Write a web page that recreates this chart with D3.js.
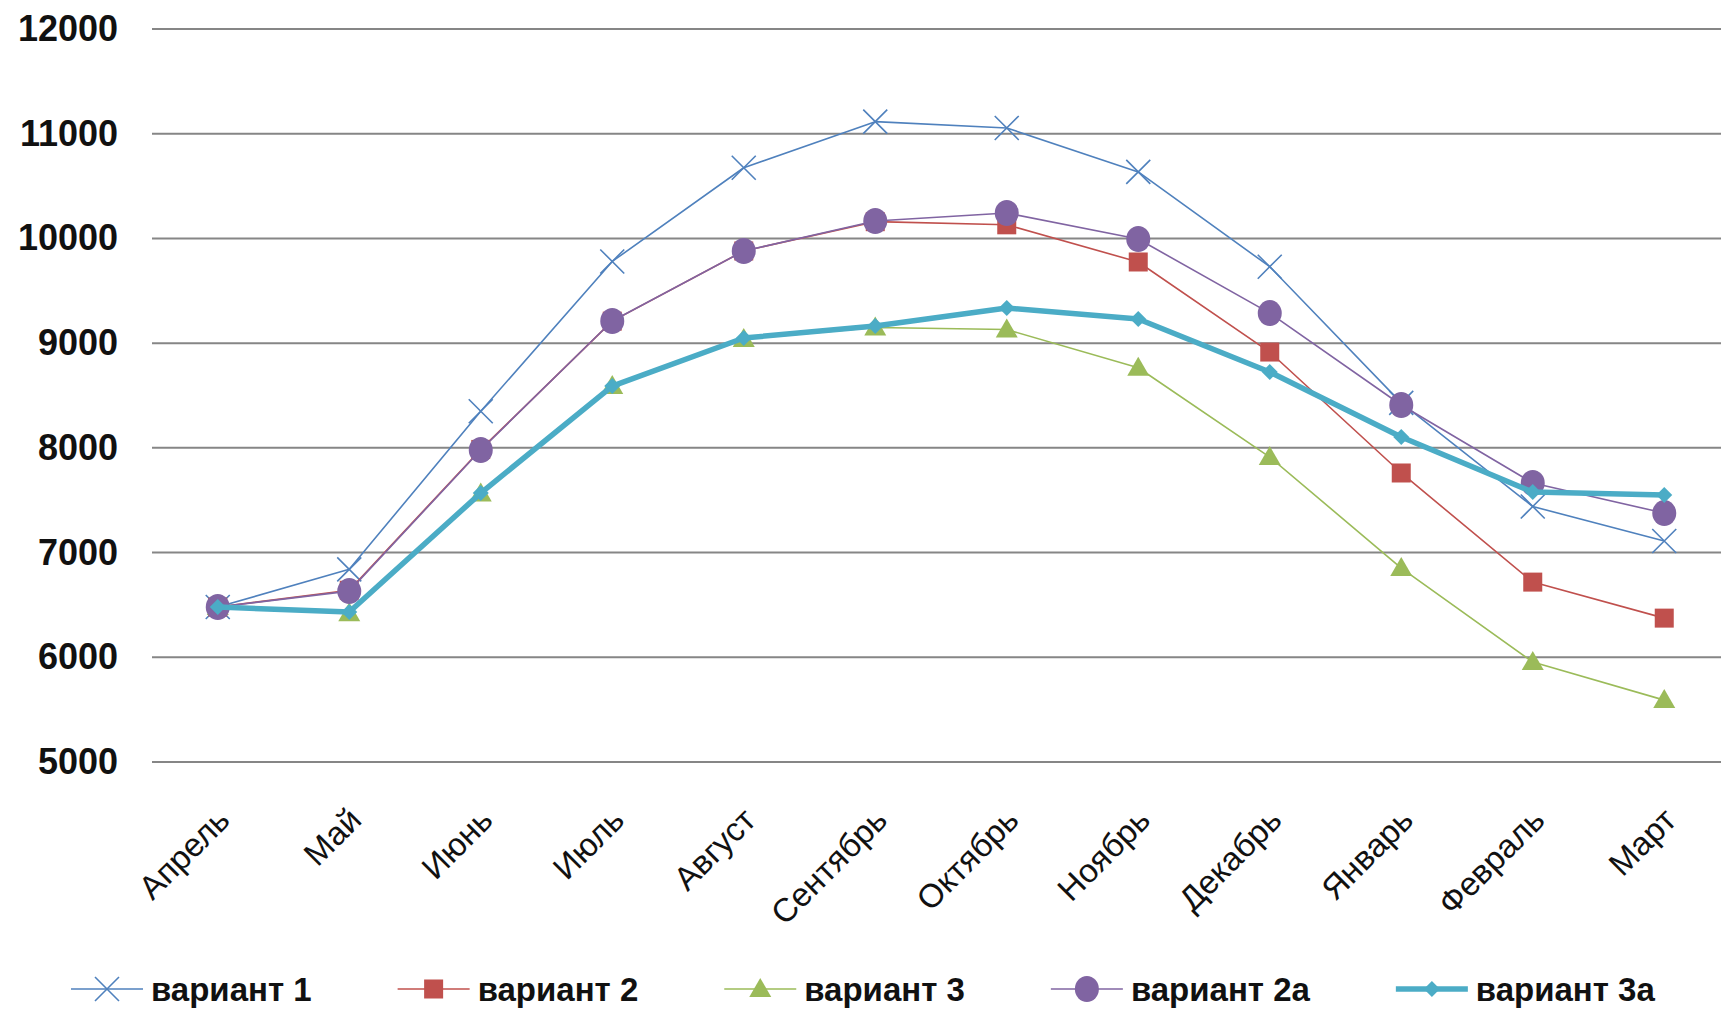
<!DOCTYPE html>
<html>
<head>
<meta charset="utf-8">
<script src="https://cdn.jsdelivr.net/npm/d3@7"></script>
<style>
  body { margin: 0; background: #fff; }
  svg { display: block; }
</style>
</head>
<body>
<div class="canvas"></div>
<script>
const dimensions = { width: 1721, height: 1009 };
const plot = { left: 152, right: 1730, top: 29, bottom: 762 };

// data
const months = ['Апрель', 'Май', 'Июнь', 'Июль', 'Август', 'Сентябрь', 'Октябрь', 'Ноябрь', 'Декабрь', 'Январь', 'Февраль', 'Март'];
const yTicks = [5000, 6000, 7000, 8000, 9000, 10000, 11000, 12000];

const variant1  = [6480, 6840, 8350, 9780, 10675, 11115, 11055, 10635, 9730, 8430, 7440, 7110];
const variant2  = [6480, 6640, 7985, 9210, 9880, 10160, 10130, 9775, 8915, 7760, 6718, 6374];
const variant3  = [6480, 6420, 7565, 8590, 9040, 9150, 9130, 8765, 7912, 6852, 5954, 5591];
const variant2a = [6480, 6632, 7980, 9211, 9880, 10166, 10243, 9994, 9287, 8409, 7664, 7377];
const variant3a = [6480, 6432, 7568, 8590, 9049, 9163, 9335, 9230, 8724, 8103, 7578, 7550];

const seriesNames = ['вариант 1', 'вариант 2', 'вариант 3', 'вариант 2а', 'вариант 3а'];

const series = [
  { name: seriesNames[0], values: variant1,  color: '#4F81BD', width: 1.6, marker: 'x' },
  { name: seriesNames[1], values: variant2,  color: '#C0504D', width: 1.6, marker: 'square' },
  { name: seriesNames[2], values: variant3,  color: '#9BBB59', width: 1.6, marker: 'triangle' },
  { name: seriesNames[3], values: variant2a, color: '#8064A2', width: 1.6, marker: 'circle' },
  { name: seriesNames[4], values: variant3a, color: '#4BACC6', width: 5.5, marker: 'diamond' }
];

const svg = d3.select('.canvas')
  .append('svg')
  .attr('width', dimensions.width)
  .attr('height', dimensions.height)
  .style('background', '#fff');

const x = d3.scalePoint()
  .domain(months)
  .range([plot.left, plot.right])
  .padding(0.5);

const y = d3.scaleLinear()
  .domain([5000, 12000])
  .range([plot.bottom, plot.top]);

// gridlines
svg.append('g')
  .selectAll('line')
  .data(yTicks)
  .enter().append('line')
  .attr('x1', plot.left)
  .attr('x2', dimensions.width)
  .attr('y1', d => y(d))
  .attr('y2', d => y(d))
  .attr('stroke', '#868686')
  .attr('stroke-width', 2);

// y labels
const yAxis = d3.axisLeft(y)
  .tickValues(yTicks)
  .tickFormat(d3.format('d'))
  .tickSize(0)
  .tickPadding(0);
const yG = svg.append('g')
  .attr('transform', `translate(118, 0)`)
  .call(yAxis);
yG.select('.domain').remove();
yG.selectAll('text')
  .attr('font-family', 'Liberation Sans, Arial, sans-serif')
  .attr('font-size', 36)
  .attr('font-weight', 'bold')
  .attr('fill', '#111');

// category labels, rotated
const xG = svg.append('g');
xG.selectAll('text')
  .data(months)
  .enter().append('text')
  .attr('transform', d => `translate(${x(d) + 14}, 822) rotate(-45)`)
  .attr('text-anchor', 'end')
  .attr('font-family', 'Liberation Sans, Arial, sans-serif')
  .attr('font-size', 33)
  .attr('fill', '#111')
  .text(d => d);

// marker drawing
const drawMarker = (g, s) => {
  if (s.marker === 'x') {
    const a = 12;
    g.append('path')
      .attr('d', `M${-a},${-a}L${a},${a}M${-a},${a}L${a},${-a}`)
      .attr('stroke', s.color)
      .attr('stroke-width', 1.6)
      .attr('fill', 'none');
  } else if (s.marker === 'square') {
    g.append('rect')
      .attr('x', -9.5).attr('y', -9.5)
      .attr('width', 19).attr('height', 19)
      .attr('fill', s.color);
  } else if (s.marker === 'triangle') {
    g.append('path')
      .attr('d', 'M0,-11L11,8L-11,8Z')
      .attr('fill', s.color);
  } else if (s.marker === 'circle') {
    g.append('ellipse')
      .attr('rx', 12).attr('ry', 13)
      .attr('fill', s.color);
  } else if (s.marker === 'diamond') {
    g.append('path')
      .attr('d', 'M0,-8L8,0L0,8L-8,0Z')
      .attr('fill', s.color);
  }
};

const line = d3.line()
  .x((d, i) => x(months[i]))
  .y(d => y(d));

series.forEach(s => {
  const g = svg.append('g');
  g.append('path')
    .datum(s.values)
    .attr('d', line)
    .attr('fill', 'none')
    .attr('stroke', s.color)
    .attr('stroke-width', s.width)
    .attr('stroke-linejoin', 'round');

  g.selectAll('g.mk')
    .data(s.values)
    .enter().append('g')
    .attr('class', 'mk')
    .attr('transform', (d, i) => `translate(${x(months[i])}, ${y(d)})`)
    .each(function () { drawMarker(d3.select(this), s); });
});

// legend
const legend = svg.append('g');
const legendY = 989;
const lineLen = 72;
const items = legend.selectAll('g')
  .data(series)
  .enter().append('g');

items.append('line')
  .attr('x1', 0).attr('x2', lineLen)
  .attr('y1', 0).attr('y2', 0)
  .attr('stroke', d => d.color)
  .attr('stroke-width', d => d.width);
items.append('g')
  .attr('transform', `translate(${lineLen / 2}, 0)`)
  .each(function (d) { drawMarker(d3.select(this), d); });
items.append('text')
  .attr('x', lineLen + 8)
  .attr('dy', '0.35em')
  .attr('font-family', 'Liberation Sans, Arial, sans-serif')
  .attr('font-size', 33)
  .attr('font-weight', 'bold')
  .attr('fill', '#111')
  .text(d => d.name);

let cursor = 71;
items.each(function () {
  const item = d3.select(this);
  item.attr('transform', `translate(${cursor}, ${legendY})`);
  const w = item.select('text').node().getComputedTextLength();
  cursor += lineLen + 8 + w + 86;
});
</script>
</body>
</html>
